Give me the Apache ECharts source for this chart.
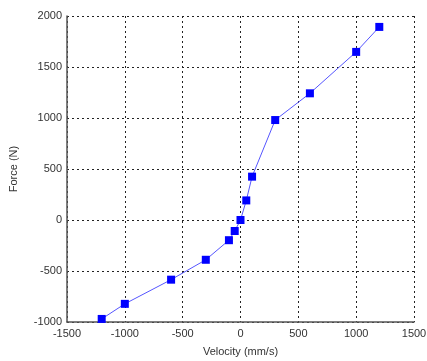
<!DOCTYPE html>
<html>
<head>
<meta charset="utf-8">
<script src="https://cdn.jsdelivr.net/npm/echarts@6/dist/echarts.min.js"></script>
<style>
  html, body { margin: 0; padding: 0; background: #fff; }
  #chart { width: 427px; height: 361px; }
</style>
</head>
<body>
<div id="chart"></div>
<script>
// velocity (mm/s) vs force (N)
const velocity = [-1200, -1000, -600, -300, -100, -50, 0, 50, 100, 300, 600, 1000, 1200]
const force = [-970, -822, -585, -390, -198, -108, 0, 192, 425, 980, 1242, 1648, 1893]

const points = velocity.map((v, i) => [v, force[i]])

const myChart = echarts.init(document.getElementById('chart'))
const gridLine = {
  show: true,
  lineStyle: { color: '#222', type: [2, 3], width: 1 }
}
const labelStyle = { color: '#333', fontFamily: 'Liberation Sans', fontSize: 11 }
// plain numbers, no thousands separator
const plain = v => String(v)

myChart.setOption({
  animation: false,
  grid: { left: 67, top: 16, right: 13, bottom: 39, outerBoundsMode: 'none' },
  xAxis: {
    type: 'value',
    min: -1500,
    max: 1500,
    interval: 500,
    name: 'Velocity (mm/s)',
    nameLocation: 'middle',
    nameGap: 24,
    nameTextStyle: labelStyle,
    axisLine: { onZero: false, lineStyle: { color: '#555', width: 1.5 } },
    axisTick: { show: false },
    axisLabel: Object.assign({ margin: 6, formatter: plain }, labelStyle),
    splitLine: gridLine
  },
  yAxis: {
    type: 'value',
    min: -1000,
    max: 2000,
    interval: 500,
    name: 'Force (N)',
    nameLocation: 'middle',
    nameGap: 48,
    nameTextStyle: labelStyle,
    axisLine: { show: true, onZero: false, lineStyle: { color: '#555', width: 1.5 } },
    axisTick: { show: false },
    axisLabel: Object.assign({ margin: 5, formatter: plain }, labelStyle),
    splitLine: gridLine
  },
  series: [{
    type: 'line',
    data: points,
    symbol: 'rect',
    symbolSize: 8,
    lineStyle: { color: '#5555ff', width: 1 },
    itemStyle: { color: '#0000ff' }
  }]
})
</script>
</body>
</html>
